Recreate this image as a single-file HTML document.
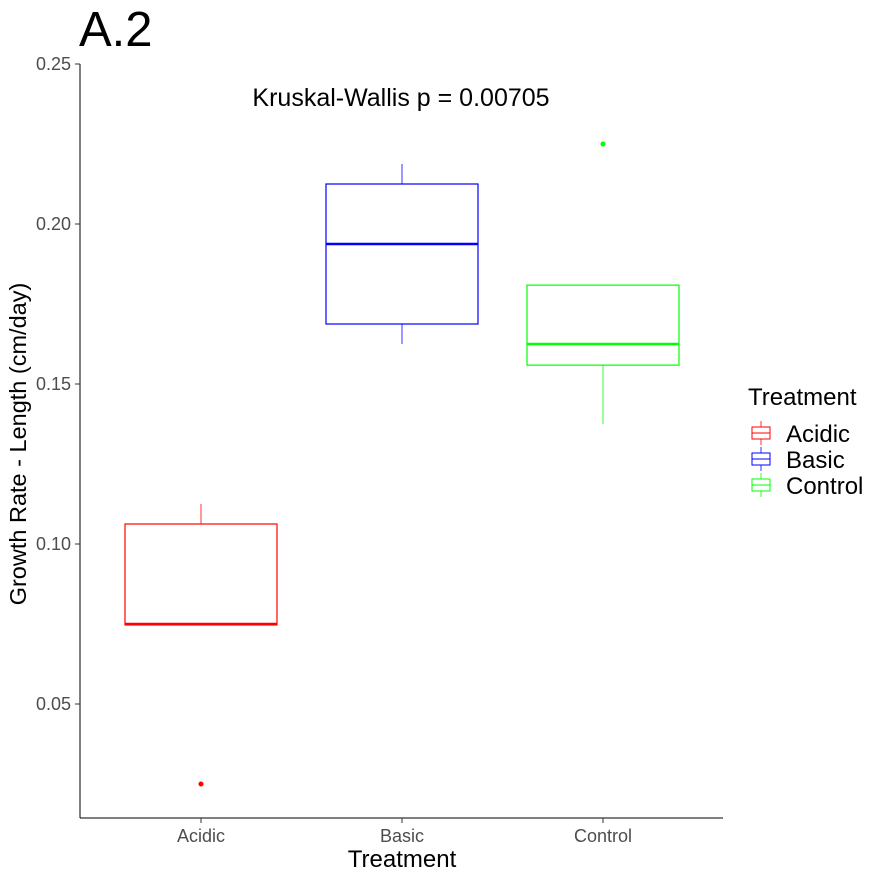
<!DOCTYPE html>
<html><head><meta charset="utf-8"><style>
body{margin:0;background:#fff;}
svg{display:block;font-family:"Liberation Sans",Arial,sans-serif;}
</style></head><body>
<svg id="chart" width="880" height="880">
<rect width="880" height="880" fill="#fff"/>
<text x="79" y="46" font-size="49">A.2</text>
<text x="401" y="106" font-size="25" text-anchor="middle">Kruskal-Wallis p = 0.00705</text>
<g id="axes"></g>
<g id="boxes"></g>
<text x="402" y="867" font-size="24" text-anchor="middle">Treatment</text>
<text transform="translate(26,444) rotate(-90)" font-size="23.5" text-anchor="middle">Growth Rate - Length (cm/day)</text>
<g id="legend">
<text x="748" y="405" font-size="24">Treatment</text>
</g>
</svg>
<script>
const categories=["Acidic","Basic","Control"];
const colors=["#ff0000","#0000ff","#00ff00"];
const whiskerLow=[0.0747,0.1625,0.1375];
const q1=[0.0747,0.16875,0.1559];
const medians=[0.075,0.19375,0.1625];
const q3=[0.10625,0.2125,0.1809];
const whiskerHigh=[0.1125,0.21875,0.1809];
const outliers=[[0.025],[],[0.225]];
const yTicks=[0.05,0.10,0.15,0.20,0.25];
const yTickLabels=["0.05","0.10","0.15","0.20","0.25"];
const NS="http://www.w3.org/2000/svg";
function y(v){return 64+(0.25-v)*3200;}
function x(i){return 201+i*201;}
function mk(tag,attrs,parent,txt){const e=document.createElementNS(NS,tag);for(const k in attrs)e.setAttribute(k,attrs[k]);if(txt!==undefined)e.textContent=txt;parent.appendChild(e);return e;}
const axes=document.getElementById('axes');
let e=mk('line',{x1:80,y1:64,x2:80,y2:818,stroke:'#000','stroke-width':1},axes);

e=mk('line',{x1:80,y1:818,x2:723,y2:818,stroke:'#000','stroke-width':1},axes);

yTicks.forEach((t,i)=>{
 const l=mk('line',{x1:75,x2:80,y1:y(t),y2:y(t),stroke:'#333'},axes);
 
 const tx=mk('text',{x:71,y:y(t)+6,'font-size':18,fill:'#4d4d4d','text-anchor':'end'},axes,yTickLabels[i]);
 
});
categories.forEach((c,i)=>{
 const l=mk('line',{x1:x(i),x2:x(i),y1:818,y2:823,stroke:'#333'},axes);
 
 const tx=mk('text',{x:x(i),y:842,'font-size':18,fill:'#4d4d4d','text-anchor':'middle'},axes,c);
 
});
const boxes=document.getElementById('boxes');
const hw=76;
categories.forEach((c,i)=>{
 const g=mk('g',{},boxes);
 
 
 const col=colors[i];
 mk('line',{x1:x(i),x2:x(i),y1:y(whiskerHigh[i]),y2:y(q3[i]),stroke:col,'stroke-width':0.8},g);
 mk('line',{x1:x(i),x2:x(i),y1:y(q1[i]),y2:y(whiskerLow[i]),stroke:col,'stroke-width':0.8},g);
 mk('rect',{x:x(i)-hw,y:y(q3[i]),width:2*hw,height:y(q1[i])-y(q3[i]),fill:'none',stroke:col,'stroke-width':1.2},g);
 mk('line',{x1:x(i)-hw,x2:x(i)+hw,y1:y(medians[i]),y2:y(medians[i]),stroke:col,'stroke-width':2.5},g);
 outliers[i].forEach(o=>{
  const p=mk('circle',{cx:x(i),cy:y(o),r:2.5,fill:col},g);
  
 });
});
const lg=document.getElementById('legend');
categories.forEach((c,i)=>{
 const cy=433+i*26,col=colors[i];
 const g=mk('g',{},lg);
 
 
 mk('line',{x1:761,x2:761,y1:cy-12,y2:cy+12,stroke:col,'stroke-width':0.8},g);
 mk('rect',{x:752,y:cy-6,width:18,height:12,fill:'#fff',stroke:col,'stroke-width':1},g);
 mk('line',{x1:752,x2:770,y1:cy,y2:cy,stroke:col,'stroke-width':1},g);
 mk('text',{x:786,y:cy+9,'font-size':24},g,c);
});
</script>
</body></html>
